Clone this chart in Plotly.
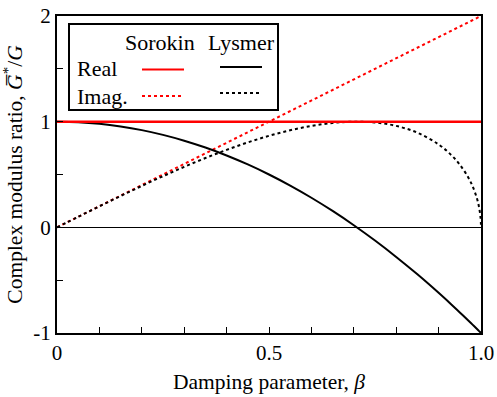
import plotly.graph_objects as go

# Damping parameter samples
beta = [0.0, 0.05, 0.10, 0.15, 0.20, 0.25, 0.30, 0.35, 0.40, 0.45, 0.50,
        0.55, 0.60, 0.65, 0.70, 0.75, 0.80, 0.85, 0.90, 0.93, 0.95, 0.97,
        0.98, 0.99, 0.995, 0.999, 1.0]

# Lysmer model: real and imaginary parts of the complex modulus ratio
lysmer_real = [1.0, 0.995, 0.98, 0.955, 0.92, 0.875, 0.82, 0.755, 0.68, 0.595, 0.5,
               0.395, 0.28, 0.155, 0.02, -0.125, -0.28, -0.445, -0.62, -0.7298, -0.805, -0.8818,
               -0.9208, -0.9602, -0.98005, -0.996, -1.0]
lysmer_imag = [0.0, 0.0999, 0.1990, 0.2966, 0.3919, 0.4841, 0.5724, 0.6557, 0.7332, 0.8037, 0.8660,
               0.9187, 0.96, 0.9879, 0.9998, 0.9922, 0.96, 0.8955, 0.7846, 0.6837, 0.5933, 0.4716,
               0.3900, 0.2793, 0.1988, 0.0893, 0.0]

# Sorokin model
sorokin_beta = [0.0, 1.0]
sorokin_real = [1.0, 1.0]
sorokin_imag = [0.0, 2.0]

x_ticks = [0, 0.5, 1.0]
x_ticklabels = ["0", "0.5", "1.0"]
y_ticks = [-1, 0, 1, 2]
y_ticklabels = ["-1", "0", "1", "2"]

FONT = "Liberation Serif"
RED = "#ff0000"

fig = go.Figure()
fig.add_trace(go.Scatter(x=sorokin_beta, y=sorokin_imag, mode="lines",
                         line=dict(color=RED, width=2, dash="dot")))
fig.add_trace(go.Scatter(x=beta, y=lysmer_imag, mode="lines", line_shape="spline",
                         line=dict(color="black", width=2, dash="dot")))
fig.add_trace(go.Scatter(x=beta, y=lysmer_real, mode="lines", line_shape="spline",
                         line=dict(color="black", width=2)))
fig.add_trace(go.Scatter(x=sorokin_beta, y=sorokin_real, mode="lines",
                         line=dict(color=RED, width=2.5)))


def px_x(p):
    return (p - 57) / 424


def px_y(p):
    return (333 - p) / 317


# Hand-built legend box
shapes = [
    dict(type="rect", xref="paper", yref="paper", x0=px_x(69), x1=px_x(278), y0=px_y(110), y1=px_y(24),
         line=dict(color="black", width=2), fillcolor="white", layer="above"),
    dict(type="line", xref="paper", yref="paper", x0=px_x(142), x1=px_x(184),
         y0=px_y(69.5), y1=px_y(69.5), line=dict(color=RED, width=2)),
    dict(type="line", xref="paper", yref="paper", x0=px_x(220), x1=px_x(262),
         y0=px_y(67), y1=px_y(67), line=dict(color="black", width=2)),
    dict(type="line", xref="paper", yref="paper", x0=px_x(142), x1=px_x(184),
         y0=px_y(96), y1=px_y(96), line=dict(color=RED, width=2, dash="dot")),
    dict(type="line", xref="paper", yref="paper", x0=px_x(220), x1=px_x(262),
         y0=px_y(93), y1=px_y(93), line=dict(color="black", width=2, dash="dot")),
]

annotations = [
    dict(text="Sorokin", x=px_x(160), y=px_y(42), xanchor="center", yanchor="middle"),
    dict(text="Lysmer", x=px_x(241), y=px_y(42), xanchor="center", yanchor="middle"),
    dict(text="Real", x=px_x(75), y=px_y(68), xanchor="left", yanchor="middle"),
    dict(text="Imag.", x=px_x(75), y=px_y(96), xanchor="left", yanchor="middle"),
]
for a in annotations:
    a.update(xref="paper", yref="paper", showarrow=False,
             font=dict(family=FONT, size=22, color="black"))

fig.update_layout(
    width=497, height=397,
    margin=dict(l=57, r=16, t=16, b=64, autoexpand=False),
    paper_bgcolor="white", plot_bgcolor="white",
    showlegend=False,
    font=dict(family=FONT, size=21, color="black"),
    shapes=shapes, annotations=annotations,
    xaxis=dict(range=[0, 1], tickvals=x_ticks, ticktext=x_ticklabels,
               ticks="inside", ticklen=6, tickwidth=1, tickcolor="black",
               minor=dict(dtick=0.1, ticks="inside", ticklen=6, tickwidth=1, tickcolor="black"),
               showline=True, linewidth=2, linecolor="black", mirror=True,
               showgrid=False, zeroline=False, automargin=False,
               title=dict(text="Damping parameter, <i>β</i>", standoff=10,
                          font=dict(family=FONT, size=21.5, color="black")),
               tickfont=dict(family=FONT, size=21, color="black")),
    yaxis=dict(range=[-1, 2], tickvals=y_ticks, ticktext=y_ticklabels,
               ticks="inside", ticklen=6, tickwidth=1, tickcolor="black",
               minor=dict(dtick=0.5, ticks="inside", ticklen=6, tickwidth=1, tickcolor="black"),
               showline=True, linewidth=2, linecolor="black", mirror=True,
               showgrid=False, zeroline=True, zerolinecolor="black", zerolinewidth=1,
               automargin=False,
               title=dict(text="Complex modulus ratio, <i>G\u0305</i><sup>*</sup>/<i>G</i>",
                          standoff=10, font=dict(family=FONT, size=21.5, color="black")),
               tickfont=dict(family=FONT, size=21, color="black")),
)

fig.write_html("out.html")
